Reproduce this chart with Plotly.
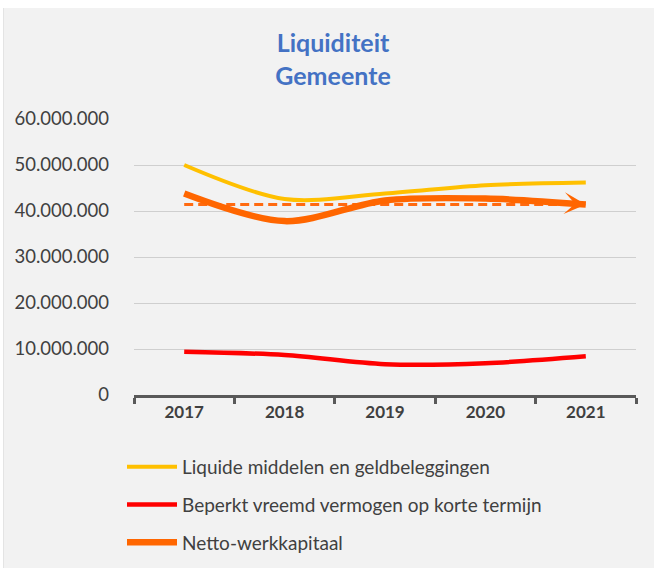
import plotly.graph_objects as go

# Years on the category axis
years = ["2017", "2018", "2019", "2020", "2021"]

# Series values (euro)
liquide = [50.0e6, 42.6e6, 43.8e6, 45.6e6, 46.2e6]
beperkt = [9.4e6, 8.7e6, 6.7e6, 6.9e6, 8.4e6]
netto = [43.8e6, 37.8e6, 42.3e6, 42.7e6, 41.4e6]

# Linear trend of the net working capital (start and end value)
trend_years = ["2017", "2021"]
trend_values = [41.4e6, 41.4e6]

y_ticks = [0, 10e6, 20e6, 30e6, 40e6, 50e6, 60e6]

W, H = 654, 568
ML, MR, MT, MB = 134, 18, 119, 173
PW, PH = W - ML - MR, H - MT - MB

FONT = "Lato, 'Open Sans', sans-serif"
TXT = "#404040"

fig = go.Figure()

fig.add_trace(go.Scatter(
    x=years, y=liquide, name="Liquide middelen en geldbeleggingen",
    mode="lines", line=dict(color="#ffc000", width=4, shape="spline", smoothing=0.9),
    legendgroup="a",
))
fig.add_trace(go.Scatter(
    x=years, y=beperkt, name="Beperkt vreemd vermogen op korte termijn",
    mode="lines", line=dict(color="#ff0000", width=4.5, shape="spline", smoothing=0.9),
    legendgroup="b",
))
fig.add_trace(go.Scatter(
    x=trend_years, y=trend_values, name="Trend netto-werkkapitaal",
    mode="lines", line=dict(color="#ff6a10", width=3, dash="9px,5px"),
    showlegend=False, hoverinfo="skip",
))
fig.add_trace(go.Scatter(
    x=years, y=netto, name="Netto-werkkapitaal",
    mode="lines", line=dict(color="#ff6600", width=6.5, shape="spline", smoothing=0.9),
    legendgroup="c",
))

# Stealth arrow head at the end of the net working capital line
# (category axis: position given as the index of the last year)
fig.add_annotation(
    x=len(years) - 1, y=netto[-1], xref="x", yref="y",
    ax=-30, ay=-2, axref="pixel", ayref="pixel",
    showarrow=True, arrowhead=3, arrowsize=1.2, arrowwidth=3,
    arrowcolor="#ff6600", text="",
)

# White strips along the top and left edge of the page
fig.add_shape(type="rect", xref="paper", yref="paper", layer="below",
              x0=-ML / PW - 0.01, x1=1 + MR / PW + 0.01,
              y0=1 + (MT - 8) / PH, y1=1 + MT / PH + 0.01,
              fillcolor="white", line=dict(width=0))
fig.add_shape(type="rect", xref="paper", yref="paper", layer="below",
              x0=-ML / PW - 0.01, x1=(-ML + 3) / PW,
              y0=-MB / PH - 0.01, y1=1 + MT / PH + 0.01,
              fillcolor="white", line=dict(width=0))
fig.add_shape(type="line", xref="paper", yref="paper", layer="below",
              x0=(-ML + 3.5) / PW, x1=(-ML + 3.5) / PW,
              y0=-MB / PH, y1=1 + (MT - 8) / PH,
              line=dict(color="#e4e4e4", width=1))

fig.update_layout(
    width=W, height=H,
    margin=dict(l=ML, r=MR, t=MT, b=MB, pad=0),
    paper_bgcolor="#f2f2f2", plot_bgcolor="#f2f2f2",
    separators=",.",
    font=dict(family=FONT, size=16, color=TXT),
    title=dict(
        text="<b>Liquiditeit<br>Gemeente</b>",
        x=333 / W, xanchor="center", xref="container",
        y=1 - 52 / H, yanchor="top",
        font=dict(family=FONT, size=25, color="#4472c4"),
    ),
    showlegend=True,
    legend=dict(
        orientation="v", x=(122 - ML) / PW, xanchor="left",
        yref="container", y=1 - 448 / H, yanchor="top",
        traceorder="grouped", tracegroupgap=10,
        font=dict(family=FONT, size=19, color=TXT),
        bgcolor="rgba(0,0,0,0)", itemwidth=50,
    ),
    xaxis=dict(
        type="category", range=[-0.5, 4.5],
        showgrid=False, showline=True, linecolor="#595959", linewidth=2.5,
        ticks="outside", tickson="boundaries", ticklen=6, tickwidth=2.5,
        tickcolor="#595959",
        tickfont=dict(family=FONT, size=17, color=TXT, weight="bold"),
        zeroline=False, fixedrange=True,
    ),
    yaxis=dict(
        range=[0, 60e6], tickvals=y_ticks, tickformat=",d",
        showgrid=True, gridcolor="#cfcfcf", gridwidth=1,
        showline=False, zeroline=False, ticks="",
        ticklabelstandoff=24,
        tickfont=dict(family=FONT, size=18.5, color=TXT),
        fixedrange=True,
    ),
)

fig.write_html("out.html")
